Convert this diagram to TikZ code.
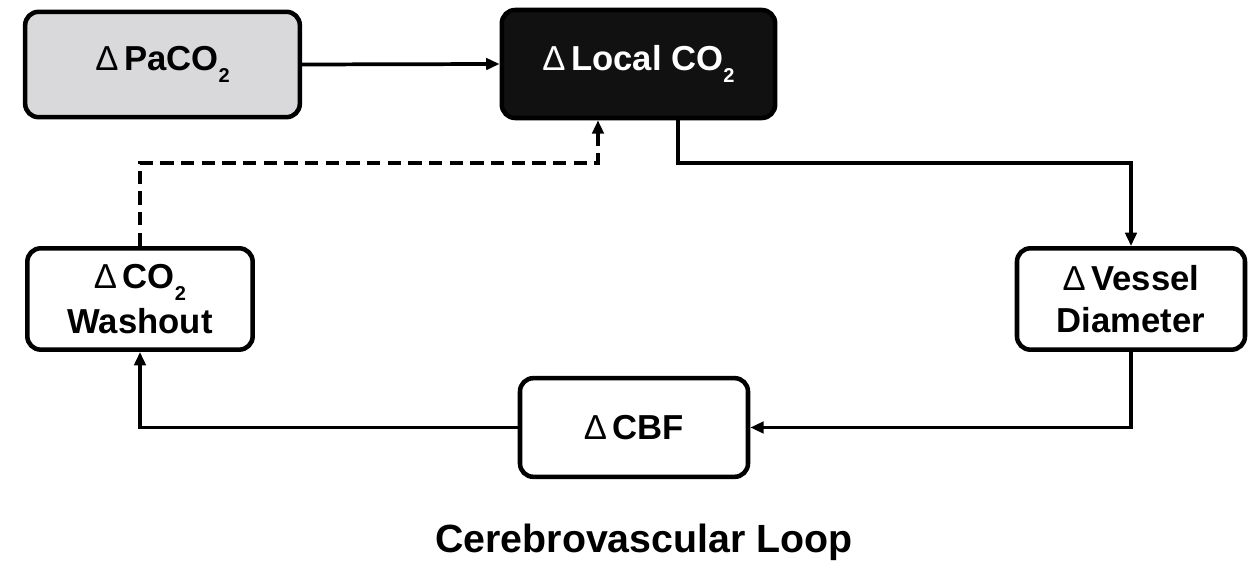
\documentclass[tikz,border=0pt]{standalone}
\usepackage{fontspec}
\setmainfont{Liberation Sans}
\usetikzlibrary{arrows.meta}
\newcommand{\dlt}{{\mdseries Δ}\,}
\newcommand{\subtwo}{\raisebox{-0.36em}{\fontsize{15}{15}\selectfont 2}}
\begin{document}
\begin{tikzpicture}[x=0.75pt,y=-0.75pt,
  box/.style={draw=black, line width=3.4pt, rounded corners=10pt, inner sep=0pt, align=center,
    font=\fontsize{26}{31}\selectfont\bfseries},
  arr/.style={line width=2.8pt, -{Triangle[length=10pt,width=8.5pt]}},
  dsh/.style={arr, dash pattern=on 10pt off 5.5pt}]
\useasboundingbox (0,0) rectangle (1258,580);
\node[box, fill={rgb,255:red,217;green,217;blue,220}, minimum width=206pt, minimum height=79pt] (pa) at (162.5,64.5) {\dlt PaCO\subtwo};
\node[box, fill={rgb,255:red,17;green,17;blue,17}, text=white, minimum width=205pt, minimum height=81pt] (loc) at (638.5,64) {\dlt Local CO\subtwo};
\node[box, fill=white, minimum width=169pt, minimum height=76pt] (wash) at (140,299) {\dlt CO\subtwo\\[3pt]Washout};
\node[box, fill=white, minimum width=171pt, minimum height=76pt] (ves) at (1131,299) {\dlt Vessel\\Diameter};
\node[box, fill=white, minimum width=171pt, minimum height=74pt] (cbf) at (634,427.5) {\dlt CBF};
\node[font=\fontsize{29.5}{32}\selectfont\bfseries, anchor=base] (title) at (644,553) {Cerebrovascular Loop};
\coordinate (k1) at (678,163);
\coordinate (k2) at (598,163);
\draw[arr] (pa.east) -- (loc.west);
\draw[arr] (loc.south -| k1) -- (k1) -| (ves.north);
\draw[arr] (ves.south) |- (cbf.east);
\draw[arr] (cbf.west) -| (wash.south);
\draw[dsh] (wash.north) |- (k2) -- (loc.south -| k2);
\end{tikzpicture}
\end{document}
